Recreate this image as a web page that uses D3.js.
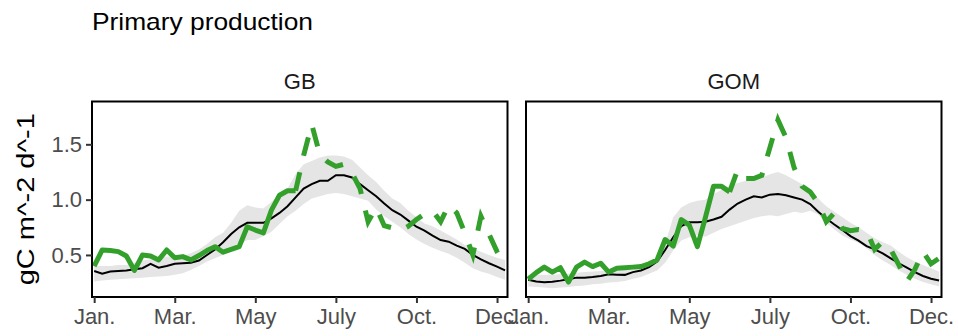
<!DOCTYPE html>
<html>
<head>
<meta charset="utf-8">
<script src="https://cdn.jsdelivr.net/npm/d3@7"></script>
<style>
  body { margin: 0; background: #fff; }
  svg text { font-family: "Liberation Sans", Arial, sans-serif; }
</style>
</head>
<body>
<svg id="chart" width="958" height="336"></svg>
<script>
// weekly primary production, weeks 1..52
var weeks = d3.range(1, 53);
var tickWeeks = [1, 11, 21, 31, 41, 51];
var tickLabels = ["Jan.", "Mar.", "May", "July", "Oct.", "Dec."];
var yTicks = [0.5, 1.0, 1.5];
var regions = ["GB", "GOM"];
var dashFrom = 26; // week where the current year turns dashed

var gbMean = [0.355, 0.33, 0.35, 0.355, 0.36, 0.37, 0.38, 0.42, 0.385, 0.40, 0.42, 0.425, 0.43, 0.45, 0.50, 0.55, 0.615, 0.69, 0.75, 0.79,
  0.79, 0.79, 0.83, 0.88, 0.94, 1.02, 1.10, 1.14, 1.17, 1.17, 1.22, 1.22, 1.20, 1.14, 1.085, 1.03, 0.965, 0.905, 0.865, 0.81,
  0.755, 0.72, 0.675, 0.635, 0.62, 0.585, 0.555, 0.50, 0.46, 0.425, 0.395, 0.36];
var gbLower = [0.26, 0.27, 0.275, 0.28, 0.285, 0.29, 0.295, 0.30, 0.305, 0.31, 0.32, 0.335, 0.365, 0.40, 0.44, 0.47, 0.50, 0.54, 0.59, 0.635,
  0.635, 0.67, 0.71, 0.78, 0.85, 0.90, 0.96, 1.01, 1.03, 1.05, 1.06, 1.05, 1.03, 1.01, 0.99, 0.91, 0.85, 0.80, 0.75, 0.69,
  0.64, 0.60, 0.565, 0.535, 0.51, 0.475, 0.43, 0.38, 0.35, 0.33, 0.30, 0.275];
var gbUpper = [0.40, 0.40, 0.40, 0.41, 0.41, 0.43, 0.45, 0.46, 0.47, 0.485, 0.485, 0.49, 0.515, 0.55, 0.60, 0.66, 0.70, 0.79, 0.90, 0.95,
  0.93, 0.92, 0.98, 1.04, 1.10, 1.23, 1.32, 1.35, 1.38, 1.40, 1.40, 1.39, 1.36, 1.29, 1.22, 1.16, 1.08, 1.01, 0.97, 0.90,
  0.84, 0.785, 0.76, 0.72, 0.68, 0.64, 0.59, 0.56, 0.53, 0.50, 0.475, 0.455];
var gbCurrent = [0.40, 0.545, 0.54, 0.53, 0.49, 0.36, 0.50, 0.49, 0.455, 0.545, 0.475, 0.485, 0.455, 0.495, 0.54, 0.575, 0.525, 0.55, 0.575, 0.755,
  0.725, 0.70, 0.905, 1.04, 1.08, 1.08, 1.40, 1.68, 1.41, 1.34, 1.30, 1.32, 1.24, 1.10, 0.80, 0.93, 0.765, 0.745, 0.72, 0.76,
  0.82, 0.87, 0.90, 0.80, 0.95, 0.88, 0.70, 0.50, 0.85, 0.69, 0.53, 0.40];

var gomMean = [0.275, 0.26, 0.253, 0.258, 0.268, 0.28, 0.295, 0.295, 0.30, 0.31, 0.325, 0.322, 0.32, 0.345, 0.36, 0.39, 0.44, 0.545, 0.66, 0.76,
  0.795, 0.795, 0.80, 0.82, 0.845, 0.91, 0.965, 1.00, 1.03, 1.02, 1.045, 1.05, 1.04, 1.02, 1.00, 0.96, 0.89, 0.83, 0.775, 0.725,
  0.67, 0.63, 0.58, 0.55, 0.515, 0.47, 0.425, 0.385, 0.345, 0.31, 0.285, 0.27];
var gomLower = [0.215, 0.21, 0.205, 0.20, 0.205, 0.21, 0.22, 0.225, 0.235, 0.24, 0.25, 0.255, 0.265, 0.285, 0.30, 0.33, 0.36, 0.43, 0.54, 0.63,
  0.66, 0.68, 0.665, 0.70, 0.735, 0.76, 0.785, 0.81, 0.835, 0.85, 0.86, 0.85, 0.87, 0.89, 0.88, 0.90, 0.865, 0.79, 0.73, 0.675,
  0.64, 0.61, 0.56, 0.50, 0.45, 0.41, 0.36, 0.32, 0.285, 0.255, 0.235, 0.215];
var gomUpper = [0.32, 0.32, 0.32, 0.32, 0.325, 0.33, 0.34, 0.345, 0.35, 0.355, 0.36, 0.36, 0.365, 0.37, 0.38, 0.41, 0.45, 0.60, 0.84, 0.93,
  0.97, 0.99, 1.00, 1.05, 1.09, 1.12, 1.15, 1.17, 1.185, 1.20, 1.23, 1.25, 1.22, 1.18, 1.14, 1.08, 1.01, 0.94, 0.89, 0.84,
  0.79, 0.75, 0.70, 0.65, 0.615, 0.585, 0.53, 0.48, 0.44, 0.41, 0.38, 0.35];
var gomCurrent = [0.28, 0.34, 0.39, 0.345, 0.385, 0.255, 0.39, 0.435, 0.395, 0.425, 0.345, 0.38, 0.385, 0.39, 0.395, 0.42, 0.455, 0.64, 0.58, 0.82,
  0.77, 0.575, 0.84, 1.12, 1.12, 1.07, 1.27, 1.19, 1.19, 1.22, 1.47, 1.72, 1.56, 1.29, 1.12, 1.07, 0.97, 0.80, 0.88, 0.74,
  0.72, 0.73, 0.72, 0.55, 0.62, 0.55, 0.41, 0.26, 0.37, 0.53, 0.42, 0.47];

var series = {
  GB: {mean: gbMean, lower: gbLower, upper: gbUpper, current: gbCurrent},
  GOM: {mean: gomMean, lower: gomLower, upper: gomUpper, current: gomCurrent}
};

var svg = d3.select("#chart");
var panelLeft = [92, 526];
var panelW = 415.5, panelTop = 101.5, panelH = 195.5;
var green = "#33a02c";

var x = d3.scaleLinear().domain([0.73, 52.3]).range([0, panelW]);
var y = d3.scaleLinear().domain([0.12, 1.887]).range([panelH, 0]);

svg.append("text")
  .attr("x", 92).attr("y", 30)
  .attr("font-size", 24).attr("fill", "#000")
  .attr("textLength", 221).attr("lengthAdjust", "spacingAndGlyphs")
  .text("Primary production");

svg.append("text")
  .attr("transform", "translate(34," + (panelTop + panelH / 2) + ") rotate(-90)")
  .attr("text-anchor", "middle")
  .attr("font-size", 23).attr("fill", "#000")
  .attr("textLength", 172).attr("lengthAdjust", "spacingAndGlyphs")
  .text("gC m^-2 d^-1");

regions.forEach(function(reg, i){
  var d = series[reg];
  var rows = weeks.map(function(w, k){
    return {w: w, mean: d.mean[k], lo: d.lower[k], hi: d.upper[k], cur: d.current[k]};
  });

  var g = svg.append("g")
    .attr("transform", "translate(" + panelLeft[i] + "," + panelTop + ")");

  g.append("clipPath").attr("id", "clip" + i)
    .append("rect").attr("width", panelW).attr("height", panelH);

  var body = g.append("g").attr("clip-path", "url(#clip" + i + ")");

  body.append("path")
    .datum(rows)
    .attr("fill", "#e5e5e5")
    .attr("d", d3.area()
      .x(function(r){ return x(r.w); })
      .y0(function(r){ return y(r.lo); })
      .y1(function(r){ return y(r.hi); }));

  body.append("path")
    .datum(rows)
    .attr("fill", "none").attr("stroke", "#000").attr("stroke-width", 2)
    .attr("d", d3.line().x(function(r){ return x(r.w); }).y(function(r){ return y(r.mean); }));

  var curLine = d3.line().x(function(r){ return x(r.w); }).y(function(r){ return y(r.cur); });

  body.append("path")
    .datum(rows.filter(function(r){ return r.w <= dashFrom; }))
    .attr("fill", "none").attr("stroke", green).attr("stroke-width", 5)
    .attr("stroke-linejoin", "round")
    .attr("d", curLine);

  body.append("path")
    .datum(rows.filter(function(r){ return r.w >= dashFrom; }))
    .attr("fill", "none").attr("stroke", green).attr("stroke-width", 5)
    .attr("stroke-dasharray", "19,17")
    .attr("d", curLine);

  g.append("rect")
    .attr("width", panelW).attr("height", panelH)
    .attr("fill", "none").attr("stroke", "#000").attr("stroke-width", 2);

  // strip label
  g.append("text")
    .attr("x", panelW / 2).attr("y", -12.5)
    .attr("text-anchor", "middle")
    .attr("font-size", 22).attr("fill", "#1a1a1a")
    .text(reg);

  var xAxis = g.append("g")
    .attr("transform", "translate(0," + panelH + ")")
    .call(d3.axisBottom(x).tickValues(tickWeeks)
      .tickFormat(function(t, k){ return tickLabels[k]; })
      .tickSize(6).tickPadding(5));
  xAxis.select(".domain").remove();
  xAxis.selectAll(".tick line").attr("stroke", "#333").attr("stroke-width", 2);
  xAxis.selectAll(".tick text").attr("font-size", 22).attr("fill", "#4d4d4d")
    .attr("font-family", "Liberation Sans, Arial, sans-serif");

  if (i === 0){
    var yAxis = g.append("g")
      .call(d3.axisLeft(y).tickValues(yTicks)
        .tickFormat(d3.format(".1f"))
        .tickSize(6).tickPadding(4));
    yAxis.select(".domain").remove();
    yAxis.selectAll(".tick line").attr("stroke", "#333").attr("stroke-width", 2);
    yAxis.selectAll(".tick text").attr("font-size", 22).attr("fill", "#4d4d4d")
      .attr("font-family", "Liberation Sans, Arial, sans-serif");
  }
});
</script>
</body>
</html>
